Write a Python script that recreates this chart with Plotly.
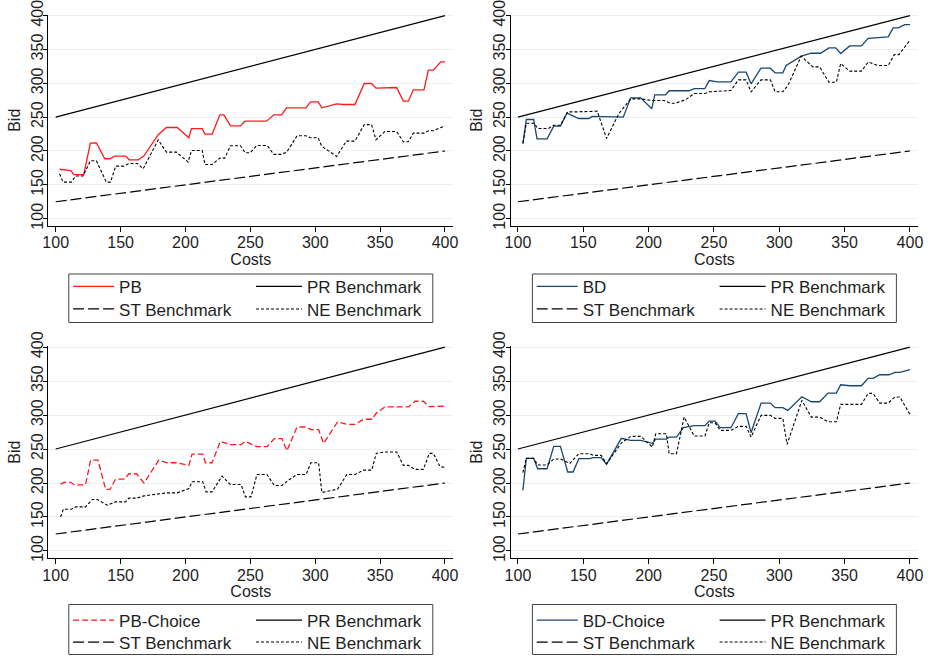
import plotly.graph_objects as go

# ---------------- data ----------------
cost_ticks = [100, 150, 200, 250, 300, 350, 400]
bid_ticks = [100, 150, 200, 250, 300, 350, 400]

# Benchmarks (straight lines)
pr_cost = [100, 400]
pr_bid = [250, 400]
st_cost = [100, 400]
st_bid = [125, 200]

# Panel 1: PB
pb_cost = [103, 111.6, 114, 121.6, 126.7, 131.4, 137.8, 141.6, 145.5, 154, 156.6, 163.5, 167.9, 179, 185.3,
           193.6, 202.6, 204.6, 212.9, 215, 220.6, 226.5, 229.6, 234.7, 242.4, 245.8, 262.5, 268.1, 274, 277.9,
           292.8, 296.4, 302.3, 305.1, 316.5, 321.6, 330.6, 337.8, 343.4, 346.8, 362.7, 367.9, 371.7, 375.6,
           383.8, 387.2, 391, 396.7, 400]
pb_bid = [173, 171, 165, 165, 211.6, 212, 188.5, 188.5, 192.4, 192.4, 187, 187, 192.4, 224, 234.7,
          234.7, 219.5, 233, 233, 225, 225, 253.4, 253.4, 237, 237, 244, 244, 253.4, 253.4, 263.8,
          263.8, 272.6, 272.6, 263.8, 269.7, 268.7, 268.7, 299.7, 299.7, 292.8, 293.8, 273.6, 273.6, 290.3,
          290.3, 319.3, 319.3, 331.6, 331.6]
ne1_cost = [103, 105.7, 112, 115.4, 121, 126.7, 131.4, 139, 142.2, 146.3, 152.4, 156.6, 163, 167.4, 179,
            185.3, 193, 202, 204.6, 212.9, 215, 220.6, 226.5, 230.3, 234.7, 242.4, 246, 250, 254.8, 263,
            268, 274, 278, 286, 292.8, 296.4, 302.3, 305, 316.5, 324, 330.6, 337.8, 343.4, 346.8, 353.7,
            362.7, 367.9, 371.7, 375.6, 383.8, 387.2, 391, 400]
ne1_bid = [166.4, 154, 154, 163, 163, 185.5, 185.5, 154, 154, 177.7, 177.7, 181.6, 181.6, 173.7, 216.5,
           198.3, 198.3, 183.6, 200.8, 200.8, 180, 180, 189.5, 189.5, 207.7, 207.7, 197.3, 197.3, 208, 208,
           195, 195, 198.3, 222.4, 222.4, 219.5, 219.5, 207, 192, 214.6, 214.6, 239, 239, 216.5, 228.8,
           228.8, 213.6, 213.6, 226.4, 226.4, 229.8, 229.8, 237.2]

# Panel 2: BD
bd_cost = [103.8, 106.4, 112, 114.6, 122.3, 127.4, 132.5, 137.6, 146.6, 154.3, 156.8, 164.5, 167, 180.6, 186.3,
           194, 202.4, 204.7, 213, 215.7, 231, 234.9, 243, 246.4, 252.8, 263, 268.7, 274.6, 278.4, 286,
           293.2, 296.8, 302.7, 305.3, 316.8, 324.5, 331.6, 338, 343.2, 347, 353.9, 362.9, 368, 383.4, 387.2,
           391, 396.1, 400]
bd_bid = [210.6, 246.5, 246.5, 218, 218, 236.7, 236.7, 256, 248, 248, 251, 251, 250, 250, 278.5,
          278.5, 262.3, 283, 283, 289, 289, 292, 292, 304, 302, 302, 316.4, 316.4, 299.2, 322.3,
          322.3, 315.4, 315.4, 326.2, 340, 344.4, 344.4, 352.3, 352.3, 344, 355.2, 355.2, 366.5, 368.5, 381.8,
          381.8, 386.7, 386.7]
ne2_cost = [103.8, 106.4, 112.5, 115, 123.5, 126.9, 132.5, 138, 145.3, 156.8, 160.7, 167.8, 177.3, 186.3, 194,
            202.1, 211.8, 216.4, 220.8, 228.5, 234.9, 243, 246.4, 263, 268.7, 274.6, 278.4, 286, 293.2, 296.8,
            302.7, 306.6, 316.8, 325.7, 330.9, 338, 343.7, 347, 353.9, 362.9, 368, 375.7, 383.4, 388, 391.6,
            400]
ne2_bid = [212, 241, 241, 233.3, 233.3, 238, 238, 257.8, 257.8, 258.8, 258.8, 218.5, 255.4, 277, 277,
           274.6, 274.6, 270.6, 270.6, 276, 285, 285, 287.4, 289.3, 305, 305, 287.4, 305, 305, 287.4,
           287.4, 296.7, 340, 324.2, 324.2, 301.6, 301.6, 329.2, 317.9, 317.9, 331.3, 326.2, 326.2, 342.4, 342.4,
           363.6]

# Panel 3: PB-Choice
pbc_cost = [103.8, 106.4, 111.5, 114.6, 123, 126.9, 132.6, 138.5, 141.8, 146.2, 153, 156.4, 162.3, 168, 179.5,
            185.9, 193.6, 202.6, 205.1, 213.3, 215.4, 220.5, 226.9, 234.6, 242.8, 246.2, 255, 262.8, 268.5, 274.4,
            278.2, 285.9, 293, 296.7, 302.6, 306.4, 317.2, 324.4, 330.8, 337.2, 343.6, 347, 353.8, 371.8, 376.9,
            383.3, 387.9, 400]
pbc_bid = [198.3, 201, 201, 197.3, 197.3, 233.7, 233.7, 190.5, 190.5, 205.7, 205.7, 213.6, 213.6, 200, 233.7,
           229.8, 229.8, 225.9, 242.6, 242.6, 229.8, 229.8, 261.3, 256.4, 256.4, 261.3, 253.4, 253.4, 265.2, 265.2,
           247.4, 282.4, 282.4, 278.5, 278.5, 258.3, 289.8, 286.3, 286.3, 293.8, 293.8, 302.6, 312, 312, 320.3,
           320.3, 312.4, 313]
ne3_cost = [103.8, 105.9, 112, 115.4, 123, 128.2, 132, 139.7, 146.2, 153.8, 156.4, 162.3, 168, 185.9, 193.6,
            202.6, 205.1, 213.3, 215.9, 220.5, 228.2, 234.6, 242.8, 246.2, 250.5, 255.1, 262.8, 268.5, 274.4, 278.7,
            285.9, 293, 296.7, 302.6, 305.1, 317.2, 324.4, 330.8, 337.2, 343.6, 347, 353.8, 362.8, 368, 371.8,
            376.9, 383.3, 387.9, 391, 396.2, 400]
ne3_bid = [150, 161.4, 161.4, 164.9, 164.9, 175.7, 175.7, 167.3, 172.3, 172.3, 177.7, 177.7, 181.1, 185.5, 185.5,
           191.9, 201.8, 201.8, 187, 187, 210.1, 197.8, 197.8, 179.6, 179.6, 212.6, 212.6, 196.3, 196.3, 203.2,
           212.6, 212.6, 229.8, 229.8, 186, 191, 212.6, 212.6, 219, 219, 243.6, 245.6, 245.6, 225.9, 225.9,
           220, 220, 243.6, 243.6, 224, 223]

# Panel 4: BD-Choice
bdc_cost = [103.8, 106.4, 112, 115.1, 122.3, 127.4, 132.5, 138.1, 142.2, 146.6, 155, 157.6, 163.7, 167.8, 179.1,
            186.3, 194, 202.9, 205.5, 213.6, 215.7, 221.3, 226.7, 234.9, 243.1, 246.4, 250.8, 254.8, 263, 268.7,
            274.6, 278.4, 286.1, 293.2, 296.8, 302.7, 306.6, 317.3, 324.5, 330.9, 337.3, 343.7, 347, 353.9, 362.9,
            368, 371.8, 376.9, 383.9, 388.5, 392.3, 400]
bdc_bid = [189.2, 236.3, 236.3, 221, 221, 254, 254, 216.2, 216.2, 235.8, 235.8, 237.3, 237.3, 227.5, 265.7,
           262.7, 262.7, 258.3, 264.7, 264.7, 267.6, 267.6, 281.4, 284.3, 284.3, 291.2, 291.2, 281.4, 281.4, 302,
           302, 274, 317.6, 317.6, 310.8, 310.8, 306.9, 327, 319.6, 319.6, 332.4, 332.4, 344.6, 343.1, 343.1,
           353.9, 353.9, 359.3, 359.3, 362.7, 362.7, 366.7]
ne4_cost = [103.8, 106.4, 112, 115.1, 122.3, 127.4, 132.5, 139.7, 146.6, 155, 157.6, 163.7, 167.8, 179.1, 186.3,
            194, 202.9, 205.5, 213.6, 215.7, 221.3, 227.2, 234.9, 243.1, 246.4, 250.8, 254.8, 263, 268.7, 274.6,
            278.4, 286.1, 293.2, 296.8, 302.7, 306, 317.3, 324.5, 330.9, 337.3, 343.7, 347, 362.9, 368, 371.8,
            376.9, 383.3, 388.5, 392.3, 400]
ne4_bid = [215.2, 236.3, 236.3, 226.5, 226.5, 235.3, 235.3, 228.9, 243.1, 243.1, 240.7, 240.7, 228.4, 258.8, 268.6,
           268.6, 252.9, 272.5, 272.5, 243.1, 243.1, 297, 269.1, 269.1, 288.7, 288.7, 277.5, 277.5, 283.3, 283.3,
           267.6, 299.5, 299.5, 295.1, 295.1, 256.9, 321.6, 297, 297, 290.2, 290.2, 315.7, 315.7, 331.9, 331.9,
           317.6, 317.6, 326.5, 326.5, 301]

main_names = ["PB", "BD", "PB-Choice", "BD-Choice"]

# ---------------- styling ----------------
W, H = 929, 658
FONT = "Liberation Sans, Arial, sans-serif"
RED = "#ff1a1a"
NAVY = "#1a476f"
GRID = "#e8f0f1"
TXT = "#1e1e1e"

SOLID = "solid"
LONG = "11px,4px"
SHORT = "3px,2px"
RED_DASH = "6px,3px"


def px(v):
    return v / W


def py(v):
    return 1 - v / H


# plot-area pixel boxes: (left, right, top, bottom)
boxes = [(48.3, 453.3, 14.5, 226), (510.5, 918.3, 14.5, 226),
         (48.3, 453.3, 346, 558.3), (510.5, 918.3, 346, 558.3)]
# legend boxes: (top, bottom) and row centres
leg_box_y = [(274, 322.5), (274, 322.5), (604.5, 654.5), (604.5, 654.5)]
leg_rows = [(285.3, 307.9), (285.3, 307.9), (619, 641)]
leg_rows.append(leg_rows[2])

panels = [
    (pb_cost, pb_bid, RED, SOLID, ne1_cost, ne1_bid),
    (bd_cost, bd_bid, NAVY, SOLID, ne2_cost, ne2_bid),
    (pbc_cost, pbc_bid, RED, RED_DASH, ne3_cost, ne3_bid),
    (bdc_cost, bdc_bid, NAVY, SOLID, ne4_cost, ne4_bid),
]

fig = go.Figure()
layout = dict(width=W, height=H, margin=dict(l=0, r=0, t=0, b=0, autoexpand=False),
              paper_bgcolor="white", plot_bgcolor="white", template="none",
              font=dict(family=FONT, size=16, color=TXT), shapes=[])


def lkey(n):
    return "legend" if n == 1 else f"legend{n}"


for i, (mx, my, mcol, mdash, nx, ny) in enumerate(panels):
    k = i + 1
    xa = "x" if k == 1 else f"x{k}"
    ya = "y" if k == 1 else f"y{k}"
    keys = [lkey(4 * i + s + 1) for s in range(4)]  # main, PR, ST, NE
    common = dict(xaxis=xa, yaxis=ya, mode="lines", showlegend=True, hoverinfo="skip")
    fig.add_trace(go.Scatter(x=mx, y=my, name=main_names[i], legend=keys[0],
                             line=dict(color=mcol, width=1.3, dash=mdash), **common))
    fig.add_trace(go.Scatter(x=pr_cost, y=pr_bid, name="PR Benchmark", legend=keys[1],
                             line=dict(color="black", width=1.2, dash=SOLID), **common))
    fig.add_trace(go.Scatter(x=st_cost, y=st_bid, name="ST Benchmark", legend=keys[2],
                             line=dict(color="black", width=1.2, dash=LONG), **common))
    fig.add_trace(go.Scatter(x=nx, y=ny, name="NE Benchmark", legend=keys[3],
                             line=dict(color="black", width=1.1, dash=SHORT), **common))

    l, r, t, b = boxes[i]
    xkey = "xaxis" if k == 1 else f"xaxis{k}"
    ykey = "yaxis" if k == 1 else f"yaxis{k}"
    layout[xkey] = dict(domain=[px(l), px(r)], anchor=ya, range=[94.3, 406.4], automargin=False,
                        tickvals=cost_ticks, ticks="outside", ticklen=5, tickcolor="black",
                        showline=True, linecolor="black", linewidth=1, showgrid=False,
                        zeroline=False, tickfont=dict(size=16, color=TXT), ticklabelstandoff=-3,
                        ticklabeloverflow="allow",
                        title=dict(text="Costs", font=dict(size=16, color=TXT), standoff=0))
    layout[ykey] = dict(domain=[py(b), py(t)], anchor=xa, range=[89.2, 401.6], automargin=False,
                        tickvals=bid_ticks, ticks="outside", ticklen=4, tickcolor="black",
                        showline=True, linecolor="black", linewidth=1, showgrid=True,
                        gridcolor=GRID, gridwidth=1, zeroline=False, tickangle=-90,
                        tickfont=dict(size=16, color=TXT), ticklabelstandoff=-6,
                        ticklabeloverflow="allow",
                        title=dict(text="Bid", font=dict(size=16, color=TXT), standoff=4))

    # legend frame
    cx = (l + r) / 2
    bx0, bx1 = cx - 182, cx + 182
    by0, by1 = leg_box_y[i]
    layout["shapes"].append(dict(type="rect", xref="paper", yref="paper",
                                 x0=px(bx0), x1=px(bx1), y0=py(by1), y1=py(by0),
                                 line=dict(color="#444444", width=1), fillcolor="rgba(0,0,0,0)"))
    r0, r1 = leg_rows[i]
    slots = [(bx0 - 0.7, r0, 41), (bx0 + 182.2, r0, 46), (bx0 - 0.7, r1, 41), (bx0 + 182.2, r1, 46)]
    for key, (lx, ry, iw) in zip(keys, slots):
        layout[key] = dict(x=px(lx), y=py(ry - 16.5), xanchor="left", yanchor="top",
                           orientation="v", bgcolor="rgba(0,0,0,0)", borderwidth=0,
                           font=dict(family=FONT, size=17, color=TXT), itemwidth=iw,
                           tracegroupgap=0, itemclick=False, itemdoubleclick=False)

fig.update_layout(**layout)
fig.write_html("out.html", config={"displayModeBar": False},
               post_script="document.body.style.margin='0px';document.body.style.padding='0px';")
